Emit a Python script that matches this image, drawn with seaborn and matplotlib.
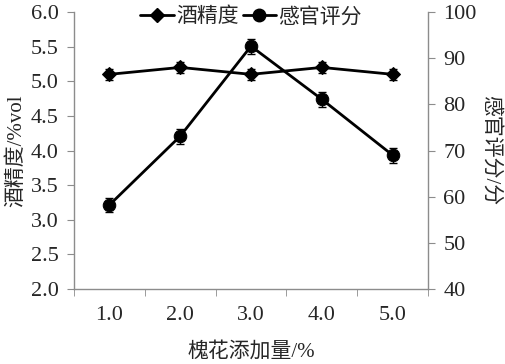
import numpy as np
import pandas as pd
import matplotlib
matplotlib.use("Agg")
import matplotlib.pyplot as plt
import seaborn as sns
from matplotlib.lines import Line2D

categories = ["1.0", "2.0", "3.0", "4.0", "5.0"]
alcohol = [5.1, 5.2, 5.1, 5.2, 5.1]
alcohol_err = [0.08, 0.08, 0.08, 0.08, 0.08]
score = [58.2, 73.1, 92.6, 81.1, 69.0]
score_err = [1.6, 1.6, 1.6, 1.6, 1.6]

sns.set_style("white")
plt.rcParams['font.family'] = ['Liberation Serif', 'Noto Sans CJK SC']
plt.rcParams['axes.unicode_minus'] = False

df = pd.DataFrame({"x": np.arange(len(categories)), "alcohol": alcohol, "score": score})

fig = plt.figure(figsize=(5.05, 3.64), dpi=100)
ax = fig.add_axes([0.1465, 0.206, 0.701, 0.761])
ax2 = ax.twinx()

sns.lineplot(data=df, x="x", y="alcohol", ax=ax, color="black", lw=2,
             marker="D", markersize=7, markeredgecolor="black")
ax.errorbar(df["x"], df["alcohol"], yerr=alcohol_err, fmt="none", ecolor="black",
            elinewidth=1, capsize=3)
sns.lineplot(data=df, x="x", y="score", ax=ax2, color="black", lw=2,
             marker="o", markersize=9, markeredgecolor="black")
ax2.errorbar(df["x"], df["score"], yerr=score_err, fmt="none", ecolor="black",
             elinewidth=1, capsize=3)

ax.set_xlim(-0.5, 4.5)
ax.set_ylim(2.0, 6.0)
ax2.set_ylim(40, 100)
ax.set_yticks(np.arange(2.0, 6.01, 0.5))
ax.set_yticklabels([f"{v:.1f}" for v in np.arange(2.0, 6.01, 0.5)])
ax2.set_yticks(np.arange(40, 101, 10))
ax.set_xticks(range(len(categories)))
ax.set_xticklabels(categories)
ax.set_xticks(np.arange(-0.5, 4.51, 1), minor=True)

gray = "#8c8c8c"
for a in (ax, ax2):
    for s in a.spines.values():
        s.set_visible(False)
ax.spines["left"].set_visible(True)
ax.spines["bottom"].set_visible(True)
ax2.spines["right"].set_visible(True)
for s in (ax.spines["left"], ax.spines["bottom"], ax2.spines["right"]):
    s.set_color(gray)
    s.set_linewidth(1)

fs = 16
ax.tick_params(axis="x", which="major", length=0, labelsize=fs, pad=12)
ax.tick_params(axis="x", which="minor", length=5, color=gray, direction="out", bottom=True)
ax.tick_params(axis="y", length=5, color=gray, direction="out", labelsize=fs, left=True, pad=6)
ax2.tick_params(axis="y", length=5, color=gray, direction="out", labelsize=fs, right=True, pad=6)

ax.set_xlabel("槐花添加量/%", fontsize=15, labelpad=12)
ax.set_ylabel("酒精度/%vol", fontsize=15, labelpad=3)
ax2.set_ylabel("感官评分/分", fontsize=15, rotation=270, labelpad=17)

handles = [Line2D([], [], color="black", lw=2, marker="D", markersize=7),
           Line2D([], [], color="black", lw=2, marker="o", markersize=9)]
ax.legend(handles, ["酒精度", "感官评分"], loc="center", bbox_to_anchor=(0.5, 0.98),
          ncol=2, frameon=False, fontsize=15, handlelength=1.6, handletextpad=0.1,
          columnspacing=0.2, borderaxespad=0)

fig.savefig("out.png", dpi=100)
